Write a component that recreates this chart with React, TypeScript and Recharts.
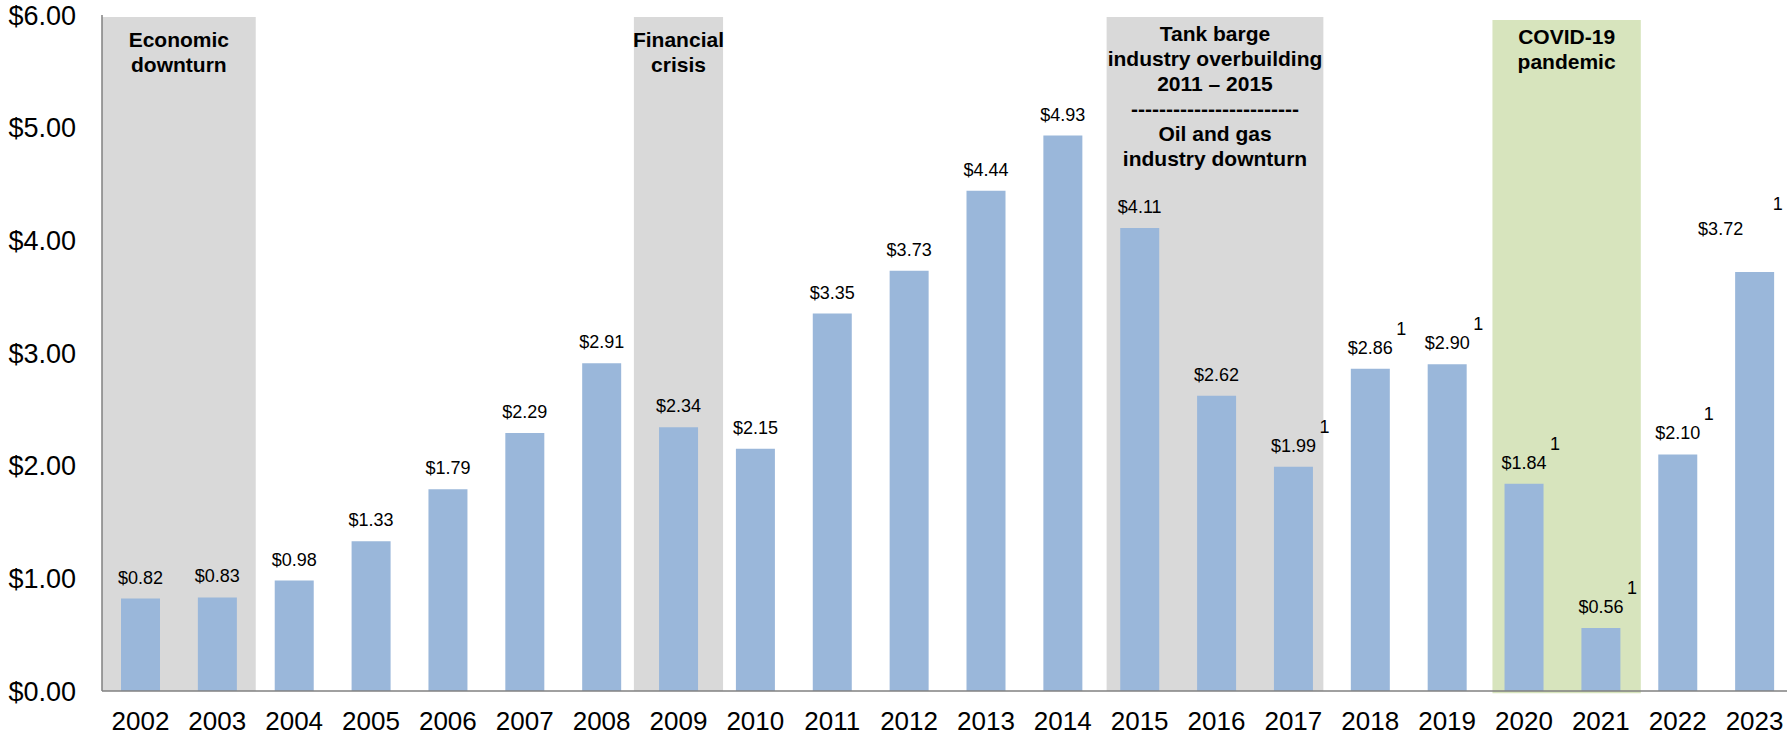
import React from 'react';
import { BarChart, Bar, XAxis, YAxis, ReferenceArea, LabelList } from 'recharts';

const YEARS = ['2002', '2003', '2004', '2005', '2006', '2007', '2008', '2009', '2010', '2011', '2012',
  '2013', '2014', '2015', '2016', '2017', '2018', '2019', '2020', '2021', '2022', '2023'];
const VALUES = [0.82, 0.83, 0.98, 1.33, 1.79, 2.29, 2.91, 2.34, 2.15, 3.35, 3.73,
  4.44, 4.93, 4.11, 2.62, 1.99, 2.86, 2.90, 1.84, 0.56, 2.10, 3.72];
const FOOTNOTE_YEARS = ['2017', '2018', '2019', '2020', '2021', '2022', '2023'];
const Y_TICKS = [0, 1, 2, 3, 4, 5, 6];

// shaded periods, x in category-index units
const PERIOD_LABELS = [
  ['Economic', 'downturn'],
  ['Financial', 'crisis'],
  ['Tank barge', 'industry overbuilding', '2011 \u2013 2015', '------------------------', 'Oil and gas', 'industry downturn'],
  ['COVID-19', 'pandemic'],
];
const PERIOD_START = [0, 6.92, 13.07, 18.09];
const PERIOD_END = [2.0, 8.08, 15.89, 20.02];

const data = YEARS.map((year, i) => ({ year, idx: i + 0.5, value: VALUES[i] }));

const FONT = '"Liberation Sans", Arial, sans-serif';
const BAR_COLOR = '#9AB7DA';
const GREY = '#D9D9D9';
const GREEN = '#D7E4BD';
const AXIS = '#808080';

const periodStyle = [
  { fill: GREY, top: 5.982, bottom: 0, textTop: 30 },
  { fill: GREY, top: 5.982, bottom: 0, textTop: 30 },
  { fill: GREY, top: 5.982, bottom: 0, textTop: 24 },
  { fill: GREEN, top: 5.955, bottom: -0.02, textTop: 24 },
];

const PeriodText = ({ viewBox, lines, textTop }: any) => {
  if (!viewBox) return null;
  const cx = viewBox.x + viewBox.width / 2;
  return (
    <text textAnchor="middle" fontFamily={FONT} fontWeight="bold" fontSize={21} fill="#000">
      {lines.map((l: string, i: number) => (
        <tspan key={i} x={cx} y={viewBox.y + textTop + i * 25}>{l}</tspan>
      ))}
    </text>
  );
};

const ValueLabel = (props: any) => {
  const { x, y, width, value, index } = props;
  const last = index === YEARS.length - 1;
  let cx = Number(x) + Number(width) / 2;
  let base = Number(y) - 15;
  const note = FOOTNOTE_YEARS.includes(YEARS[index]);
  // last label sits left of its bar near the edge
  if (last) {
    cx -= 34;
    base -= 22;
  }
  const noteX = last ? cx + 52 : cx + 26;
  const noteY = last ? base - 25 : base - 19;
  return (
    <g>
      <text x={cx} y={base} textAnchor="middle" fontFamily={FONT} fontSize={18} fill="#000">
        {`$${Number(value).toFixed(2)}`}
      </text>
      {note && (
        <text x={noteX} y={noteY} fontFamily={FONT} fontSize={18} fill="#000">1</text>
      )}
    </g>
  );
};

const App: React.FC = () => {
  return (
    <div style={{ position: 'absolute', left: 0, top: 0, width: 1787, height: 738, overflow: 'hidden', background: '#fff' }}>
      <BarChart width={1793} height={738} data={data} margin={{ top: 15, right: 0, left: 0, bottom: 0 }}>
        <XAxis
          dataKey="year"
          interval={0}
          height={47}
          tickSize={0}
          tickMargin={21}
          tickLine={false}
          axisLine={{ stroke: AXIS, strokeWidth: 1.5 }}
          tick={{ fontSize: 26, fill: '#000', fontFamily: FONT }}
        />
        <XAxis xAxisId="band" type="number" dataKey="idx" domain={[0, 22]} allowDataOverflow hide />
        <YAxis
          domain={[0, 6]}
          ticks={Y_TICKS}
          interval={0}
          width={102}
          tickSize={0}
          tickMargin={26}
          tickLine={false}
          axisLine={{ stroke: AXIS, strokeWidth: 1.5 }}
          tickFormatter={(v: number) => `$${v.toFixed(2)}`}
          tick={{ fontSize: 27, fill: '#000', fontFamily: FONT }}
        />
        {PERIOD_LABELS.map((lines, i) => (
          <ReferenceArea
            key={i}
            xAxisId="band"
            x1={PERIOD_START[i]}
            x2={PERIOD_END[i]}
            y1={periodStyle[i].bottom}
            y2={periodStyle[i].top}
            fill={periodStyle[i].fill}
            fillOpacity={1}
            stroke="none"
            ifOverflow="visible"
            label={(p: any) => <PeriodText viewBox={p.viewBox} lines={lines} textTop={periodStyle[i].textTop} />}
          />
        ))}
        <Bar dataKey="value" fill={BAR_COLOR} barSize={39} isAnimationActive={false}>
          <LabelList dataKey="value" content={<ValueLabel />} />
        </Bar>
      </BarChart>
    </div>
  );
};

export default App;
